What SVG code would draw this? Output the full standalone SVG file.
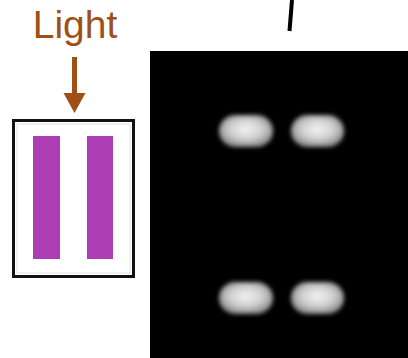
<svg xmlns="http://www.w3.org/2000/svg" width="408" height="358" viewBox="0 0 408 358">
<defs>
<style>
.lbl{font-family:"Liberation Sans",Arial,sans-serif;font-size:39px;fill:#9E5016}
.bar{fill:#AC3DB4}
.blob{fill:url(#bg);filter:url(#blur)}
</style>
<radialGradient id="bg" cx="0.5" cy="0.45" r="0.6">
<stop offset="0" stop-color="#F2F2F2"/>
<stop offset="0.5" stop-color="#D0D0D0"/>
<stop offset="1" stop-color="#7A7A7A"/>
</radialGradient>
<filter id="blur" x="-20%" y="-30%" width="140%" height="160%"><feGaussianBlur stdDeviation="2"/></filter>
</defs>
<rect width="408" height="358" fill="#FFFFFF"/>
<g id="light-label">
<text class="lbl" x="75" y="38" text-anchor="middle">Light</text>
</g>
<g id="connectors">
<line x1="74.5" y1="57" x2="74.5" y2="95" stroke="#9E5016" stroke-width="5"/>
<path d="M63.5,93 L85.5,93 L74.5,113 Z" fill="#9E5016"/>
</g>
<g id="sample">
<rect x="13.5" y="120.5" width="120" height="156" fill="#FFFFFF" stroke="#111111" stroke-width="3"/>
<rect x="17" y="124" width="113" height="149" fill="none" stroke="#E6E0E6" stroke-width="1"/>
<rect class="bar" x="33" y="136" width="27" height="123"/>
<rect class="bar" x="87" y="136" width="26" height="123"/>
</g>
<g id="image">
<rect x="150" y="51" width="258" height="307" fill="#000000"/>
<rect class="blob" x="219" y="115" width="54" height="32" rx="16"/>
<rect class="blob" x="291" y="115" width="53" height="32" rx="16"/>
<rect class="blob" x="219" y="282" width="54" height="32" rx="16"/>
<rect class="blob" x="291" y="282" width="53" height="32" rx="16"/>
</g>
<g id="tick">
<line x1="292" y1="0" x2="289.5" y2="31" stroke="#000000" stroke-width="4"/>
</g>
</svg>
